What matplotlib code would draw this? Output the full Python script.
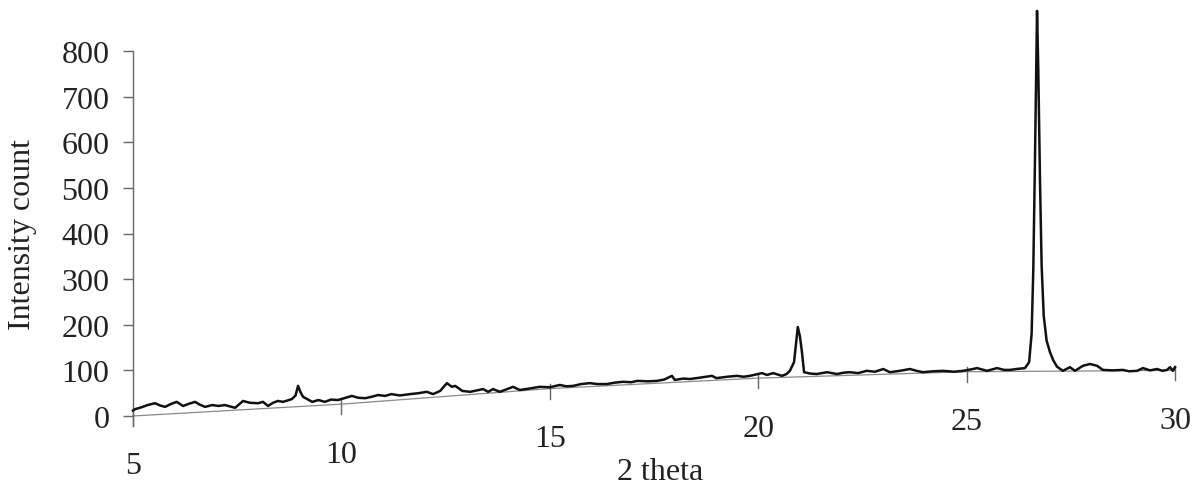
import matplotlib
matplotlib.use("Agg")
import matplotlib.pyplot as plt
import numpy as np

# XRD scan (2 theta, counts)
two_theta = [5.0, 5.05, 5.2, 5.35, 5.53, 5.65, 5.77, 5.9, 6.05, 6.2, 6.35, 6.49, 6.6, 6.73,
             6.9, 7.05, 7.2, 7.45, 7.64, 7.8, 8.0, 8.12, 8.24, 8.36, 8.48, 8.6, 8.81, 8.9,
             8.96, 9.02, 9.08, 9.2, 9.3, 9.45, 9.6, 9.75, 9.92, 10.1, 10.25, 10.4, 10.57,
             10.72, 10.88, 11.05, 11.2, 11.4, 11.65, 11.85, 12.05, 12.2, 12.37, 12.53,
             12.65, 12.73, 12.9, 13.09, 13.25, 13.4, 13.52, 13.64, 13.8, 13.95, 14.12,
             14.28, 14.5, 14.76, 15.0, 15.24, 15.4, 15.56, 15.75, 15.96, 16.15, 16.37,
             16.55, 16.76, 16.95, 17.1, 17.35, 17.57, 17.75, 17.93, 18.0, 18.2, 18.36,
             18.6, 18.89, 19.0, 19.25, 19.49, 19.65, 19.8, 20.09, 20.21, 20.36, 20.57,
             20.68, 20.76, 20.86, 20.91, 20.95, 21.0, 21.05, 21.1, 21.25, 21.41, 21.65,
             21.89, 22.05, 22.2, 22.4, 22.6, 22.8, 23.0, 23.16, 23.4, 23.64, 23.8, 23.95,
             24.2, 24.43, 24.7, 24.91, 25.1, 25.25, 25.49, 25.73, 25.9, 26.04, 26.2,
             26.4, 26.5, 26.56, 26.6, 26.64, 26.67, 26.69, 26.72, 26.76, 26.8, 26.85,
             26.92, 27.0, 27.08, 27.17, 27.31, 27.48, 27.6, 27.79, 27.96, 28.13, 28.27,
             28.5, 28.75, 28.9, 29.09, 29.23, 29.4, 29.57, 29.7, 29.81, 29.88, 29.95, 30.0]
intensity = [12, 15, 19, 24, 28, 23, 20, 26, 31, 22, 27, 31, 25, 20,
             24, 22, 24, 18, 33, 29, 28, 31, 22, 29, 33, 31, 37, 45,
             66, 52, 42, 36, 31, 35, 31, 36, 35, 40, 44, 40, 39,
             42, 46, 44, 48, 45, 48, 50, 53, 48, 55, 72,
             64, 66, 55, 53, 56, 59, 53, 59, 53, 58, 64,
             57, 60, 64, 63, 68, 65, 66, 70, 72, 70, 70,
             73, 75, 74, 77, 76, 77, 80, 88, 79, 82, 81,
             84, 88, 83, 86, 88, 86, 88, 94, 90, 94, 88,
             92, 99, 118, 160, 195, 175, 140, 96, 93, 92, 96,
             92, 95, 96, 94, 99, 97, 103, 96, 99, 103, 99, 96,
             98, 99, 97, 99, 102, 105, 99, 105, 101, 101, 103,
             105, 118, 180, 320, 560, 760, 888, 760, 520, 330, 220,
             165, 140, 122, 108, 99, 107, 99, 110, 114, 110, 101,
             100, 101, 98, 99, 105, 100, 103, 99, 101, 107, 99, 107]

# background curve, also used as the x axis
base_x = [5, 10, 15, 20, 25, 30]
base_y = [0, 26, 60, 83, 97, 100]
y_ticks = [0, 100, 200, 300, 400, 500, 600, 700, 800]

plt.rcParams["font.family"] = ["Liberation Serif", "DejaVu Serif"]
txt = "#222222"

fig = plt.figure(figsize=(11.96, 4.89), dpi=100)
ax = fig.add_axes([133 / 1196, 1 - 417 / 489, 1042 / 1196, 900 * 0.45625 / 489])
ax.set_xlim(5, 30)
ax.set_ylim(0, 900)

ax.plot(base_x, base_y, color="#8a8a8a", lw=0.9, clip_on=False, zorder=1)
ax.plot(two_theta, intensity, color="#111111", lw=1.8, clip_on=False, zorder=3)

for s in ["top", "right", "bottom"]:
    ax.spines[s].set_visible(False)
ax.spines["left"].set_bounds(-22, 800)
ax.spines["left"].set_color("#666666")
ax.spines["left"].set_linewidth(1.0)

ax.set_yticks(y_ticks)
ax.tick_params(axis="y", direction="out", length=7, width=1.0, color="#666666",
               pad=10, labelsize=23, labelcolor=txt)
ax.set_xticks([])

# x ticks and labels sit on the sloped background line
for bx, by in zip(base_x, base_y):
    ax.plot([bx, bx], [by + 10, by - 22], color="#666666", lw=1.0, clip_on=False)
    ax.annotate(str(bx), (bx, by), xytext=(0, -36), textcoords="offset points",
                ha="center", va="center", fontsize=23, color=txt, annotation_clip=False)

fig.text(660 / 1196, 1 - 472 / 489, "2 theta", ha="center", va="center",
         fontsize=23, color=txt)
fig.text(23 / 1196, 1 - 234 / 489, "Intensity count", ha="center", va="center",
         rotation=90, fontsize=23, color=txt)

fig.savefig("out.png", dpi=100, facecolor="white")
